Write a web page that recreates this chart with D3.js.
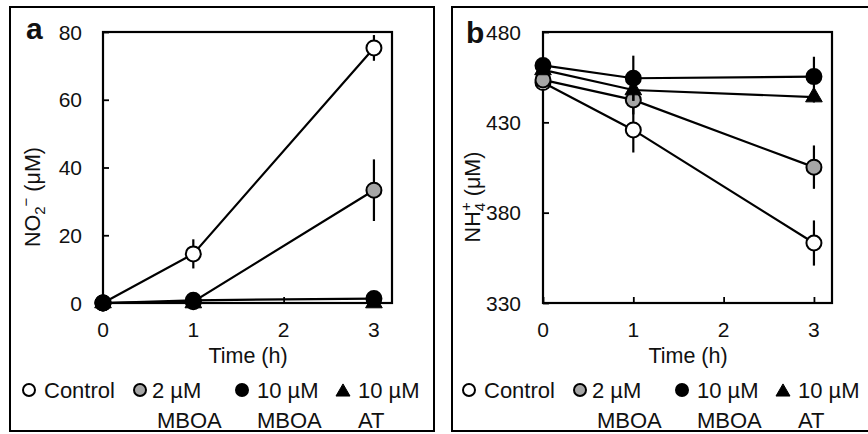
<!DOCTYPE html>
<html>
<head>
<meta charset="utf-8">
<script src="https://cdn.jsdelivr.net/npm/d3@7"></script>
<style>
  body { margin: 0; background: #fff; }
  svg { display: block; font-family: "Liberation Sans", Arial, sans-serif; }
  .tick-label { font-size: 21px; fill: #111; }
  .axis-title { font-size: 21.5px; fill: #111; }
  .legend-text { font-size: 22px; fill: #111; }
  .panel-label { font-size: 30px; font-weight: bold; fill: #111; }
</style>
</head>
<body>
<svg id="chart" width="868" height="434"></svg>
<script>
// ── Data ───────────────────────────────────────────────────────────────────
const times = [0, 1, 3];
const xTicks = [0, 1, 2, 3];
const seriesNames = ["Control", "2 µM MBOA", "10 µM MBOA", "10 µM AT"];
const legendLines = [["Control"], ["2 µM", "MBOA"], ["10 µM", "MBOA"], ["10 µM", "AT"]];

// panel a: NO2- (µM)
const no2Ticks = [0, 20, 40, 60, 80];
const no2Control = [0, 14.5, 75.3];
const no2ControlErr = [0, 4.3, 3.8];
const no2Mboa2 = [0, 0.4, 33.3];
const no2Mboa2Err = [0, 0, 9.1];
const no2Mboa10 = [0, 0.8, 1.3];
const no2Mboa10Err = [0, 0, 0];
const no2At = [0, 0, 0];
const no2AtErr = [0, 0, 0];

// panel b: NH4+ (µM)
const nh4Ticks = [330, 380, 430, 480];
const nh4Control = [452, 425.8, 363.2];
const nh4ControlErr = [1.5, 12.5, 12.5];
const nh4Mboa2 = [453.5, 442.4, 405.2];
const nh4Mboa2Err = [1.5, 8, 12];
const nh4Mboa10 = [461.5, 454.4, 455.3];
const nh4Mboa10Err = [1.5, 12.5, 11];
const nh4At = [459, 447.9, 444];
const nh4AtErr = [1.5, 6, 3];

// ── Layout ─────────────────────────────────────────────────────────────────
const PLOT = { left: 103, right: 392, top: 32, bottom: 303 };
const PANEL_DX = 440;
const svg = d3.select("#chart");

const styles = [
  { shape: "circle", fill: "#fff" },
  { shape: "circle", fill: "#a6a6a6" },
  { shape: "circle", fill: "#000" },
  { shape: "triangle", fill: "#000" }
];

function marker(g, shape, fill, x, y, big) {
  if (shape === "circle") {
    g.append("circle").attr("cx", x).attr("cy", y).attr("r", big ? 7.5 : 6)
      .attr("fill", fill).attr("stroke", "#000").attr("stroke-width", 2);
  } else {
    g.append("path")
      .attr("d", d3.symbol(d3.symbolTriangle, big ? 120 : 85)())
      .attr("transform", `translate(${x},${y})`)
      .attr("fill", fill).attr("stroke", "#000").attr("stroke-width", 1);
  }
}

function drawPanel(opt) {
  const g = svg.append("g").attr("transform", `translate(${opt.dx},0)`);

  // outer frame
  g.append("rect").attr("x", opt.frameX).attr("y", 7)
    .attr("width", opt.frameW).attr("height", 424)
    .attr("fill", "none").attr("stroke", "#000").attr("stroke-width", 2);

  const x = d3.scaleLinear().domain([0, 3.2]).range([PLOT.left, PLOT.right]);
  const y = d3.scaleLinear().domain(opt.yDomain).range([PLOT.bottom, PLOT.top]);

  // plot box
  g.append("rect").attr("x", PLOT.left).attr("y", PLOT.top)
    .attr("width", PLOT.right - PLOT.left).attr("height", PLOT.bottom - PLOT.top)
    .attr("fill", "none").attr("stroke", "#000").attr("stroke-width", 2.2);

  // axes with inward ticks
  g.append("g").attr("transform", `translate(0,${PLOT.bottom})`)
    .call(d3.axisTop(x).tickValues(xTicks).tickSize(6).tickFormat(""))
    .call(a => a.select(".domain").remove())
    .call(a => a.selectAll("line").attr("stroke-width", 1.8));
  g.append("g").attr("transform", `translate(${PLOT.left},0)`)
    .call(d3.axisRight(y).tickValues(opt.yTicks).tickSize(6).tickFormat(""))
    .call(a => a.select(".domain").remove())
    .call(a => a.selectAll("line").attr("stroke-width", 1.8));

  xTicks.forEach(t => {
    g.append("text").attr("class", "tick-label").attr("x", x(t)).attr("y", 337)
      .attr("text-anchor", "middle").text(t);
  });
  opt.yTicks.forEach(t => {
    g.append("text").attr("class", "tick-label").attr("x", PLOT.left - opt.yLabelGap)
      .attr("y", y(t)).attr("dy", "0.36em").attr("text-anchor", "end").text(t);
  });

  // axis titles
  g.append("text").attr("class", "axis-title").attr("x", 248).attr("y", 363)
    .attr("text-anchor", "middle").text("Time (h)");
  const yt = g.append("text").attr("class", "axis-title")
    .attr("transform", `translate(${opt.yTitleX},197) rotate(-90)`)
    .attr("text-anchor", "middle");
  opt.yTitle(yt);

  // panel letter
  g.append("text").attr("class", "panel-label").attr("x", opt.letterX).attr("y", opt.letterY)
    .text(opt.letter);

  // series: line, error bars, markers
  opt.series.forEach((s, i) => {
    const pts = times.map((t, j) => ({ t, v: s.v[j], e: s.e[j] }));
    g.append("path").datum(pts)
      .attr("fill", "none").attr("stroke", "#000").attr("stroke-width", 2.2)
      .attr("d", d3.line().x(d => x(d.t)).y(d => y(d.v)));
    pts.filter(d => d.e > 0).forEach(d => {
      g.append("line").attr("x1", x(d.t)).attr("x2", x(d.t))
        .attr("y1", y(d.v - d.e)).attr("y2", y(d.v + d.e))
        .attr("stroke", "#000").attr("stroke-width", 2.2);
    });
    pts.forEach(d => marker(g, styles[i].shape, styles[i].fill, x(d.t), y(d.v), true));
  });

  // legend
  const legX = [29, 140, 242, 343];
  const txtX = [44, 152, 257, 358];
  legendLines.forEach((lines, i) => {
    marker(g, styles[i].shape, styles[i].fill, legX[i], styles[i].shape === "triangle" ? 392 : 390, false);
    lines.forEach((ln, k) => {
      g.append("text").attr("class", "legend-text")
        .attr("x", txtX[i] + (i === 1 && k === 1 ? 5 : 0)).attr("y", 398 + k * 30)
        .text(ln);
    });
  });
}

drawPanel({
  dx: 0, frameX: 10, frameW: 424, letter: "a", letterX: 26, letterY: 39,
  yDomain: [0, 80], yTicks: no2Ticks, yLabelGap: 21, yTitleX: 40,
  yTitle: t => {
    t.append("tspan").text("NO");
    t.append("tspan").attr("font-size", "15px").attr("dy", 5).text("2");
    t.append("tspan").attr("font-size", "15px").attr("dy", -14).text("−");
    t.append("tspan").attr("dy", 9).text(" (μM)");
  },
  series: [
    { v: no2Control, e: no2ControlErr },
    { v: no2Mboa2, e: no2Mboa2Err },
    { v: no2Mboa10, e: no2Mboa10Err },
    { v: no2At, e: no2AtErr }
  ]
});

drawPanel({
  dx: PANEL_DX, frameX: 12, frameW: 440, letter: "b", letterX: 26, letterY: 43,
  yDomain: [330, 480], yTicks: nh4Ticks, yLabelGap: 22, yTitleX: 40,
  yTitle: t => {
    t.append("tspan").text("NH");
    t.append("tspan").attr("font-size", "15px").attr("dy", 5).text("4");
    t.append("tspan").attr("font-size", "15px").attr("dy", -14).attr("dx", -8).text("+");
    t.append("tspan").attr("dy", 9).text(" (μM)");
  },
  series: [
    { v: nh4Control, e: nh4ControlErr },
    { v: nh4Mboa2, e: nh4Mboa2Err },
    { v: nh4Mboa10, e: nh4Mboa10Err },
    { v: nh4At, e: nh4AtErr }
  ]
});
</script>
</body>
</html>
